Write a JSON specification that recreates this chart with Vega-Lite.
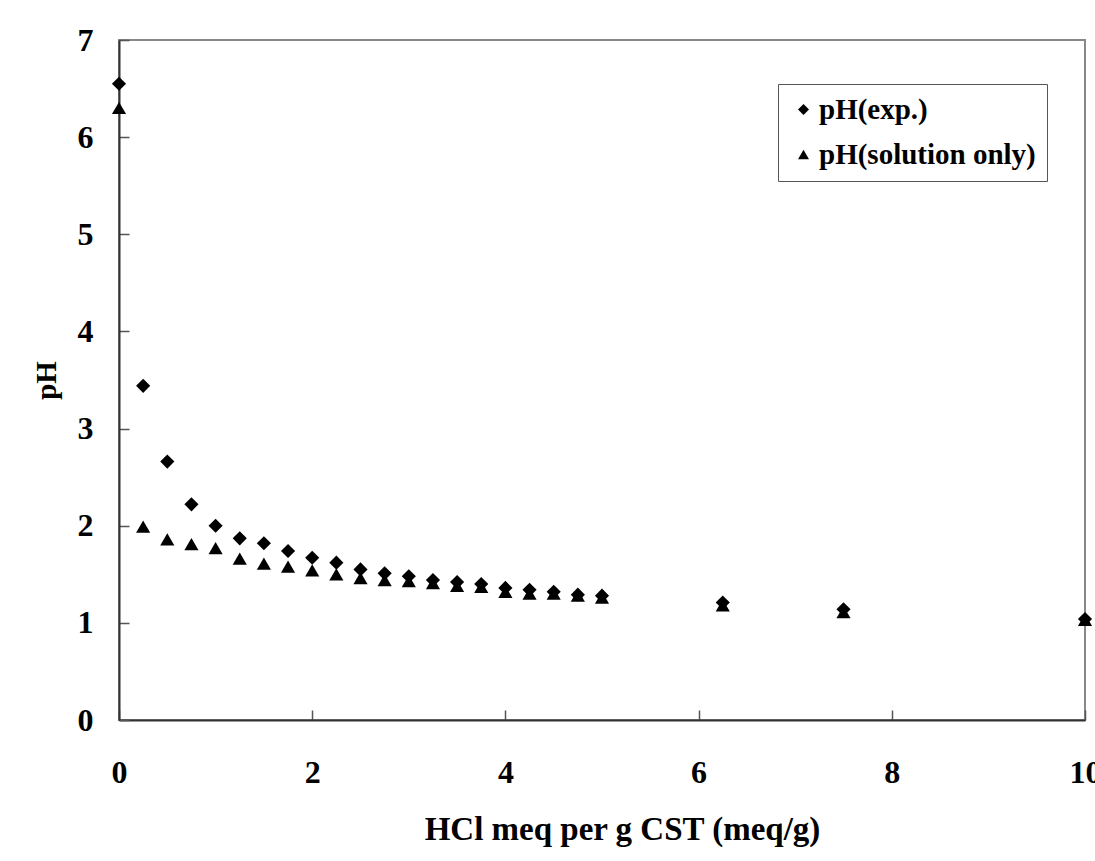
{
  "$schema": "https://vega.github.io/schema/vega-lite/v6.json",
  "autosize": {"type": "none"},
  "padding": {"left": 119, "top": 40, "right": 10, "bottom": 141},
  "width": 966,
  "height": 680,
  "background": "white",
  "config": {
    "view": {"stroke": "#888888", "strokeWidth": 2},
    "font": "Liberation Serif",
    "axis": {
      "grid": false,
      "domainColor": "#333333",
      "domainWidth": 2,
      "ticks": true,
      "tickColor": "#555555",
      "tickWidth": 1.5,
      "tickSize": -10,
      "labelFont": "Liberation Serif",
      "labelFontWeight": "bold",
      "labelFontSize": 32,
      "labelColor": "black",
      "titleFont": "Liberation Serif",
      "titleFontWeight": "bold",
      "titleFontSize": 29,
      "titleColor": "black"
    }
  },
  "data": {
    "values": [
      {"hcl": 0, "series": "pH(exp.)", "pH": 6.55},
      {"hcl": 0.25, "series": "pH(exp.)", "pH": 3.44},
      {"hcl": 0.5, "series": "pH(exp.)", "pH": 2.66},
      {"hcl": 0.75, "series": "pH(exp.)", "pH": 2.22},
      {"hcl": 1.0, "series": "pH(exp.)", "pH": 2.0},
      {"hcl": 1.25, "series": "pH(exp.)", "pH": 1.87},
      {"hcl": 1.5, "series": "pH(exp.)", "pH": 1.82},
      {"hcl": 1.75, "series": "pH(exp.)", "pH": 1.74},
      {"hcl": 2.0, "series": "pH(exp.)", "pH": 1.67},
      {"hcl": 2.25, "series": "pH(exp.)", "pH": 1.62},
      {"hcl": 2.5, "series": "pH(exp.)", "pH": 1.55},
      {"hcl": 2.75, "series": "pH(exp.)", "pH": 1.51},
      {"hcl": 3.0, "series": "pH(exp.)", "pH": 1.48},
      {"hcl": 3.25, "series": "pH(exp.)", "pH": 1.44},
      {"hcl": 3.5, "series": "pH(exp.)", "pH": 1.42},
      {"hcl": 3.75, "series": "pH(exp.)", "pH": 1.4},
      {"hcl": 4.0, "series": "pH(exp.)", "pH": 1.36},
      {"hcl": 4.25, "series": "pH(exp.)", "pH": 1.34},
      {"hcl": 4.5, "series": "pH(exp.)", "pH": 1.32},
      {"hcl": 4.75, "series": "pH(exp.)", "pH": 1.29},
      {"hcl": 5.0, "series": "pH(exp.)", "pH": 1.28},
      {"hcl": 6.25, "series": "pH(exp.)", "pH": 1.21},
      {"hcl": 7.5, "series": "pH(exp.)", "pH": 1.14},
      {"hcl": 10.0, "series": "pH(exp.)", "pH": 1.04},
      {"hcl": 0, "series": "pH(solution only)", "pH": 6.3},
      {"hcl": 0.25, "series": "pH(solution only)", "pH": 1.99},
      {"hcl": 0.5, "series": "pH(solution only)", "pH": 1.86},
      {"hcl": 0.75, "series": "pH(solution only)", "pH": 1.81},
      {"hcl": 1.0, "series": "pH(solution only)", "pH": 1.77},
      {"hcl": 1.25, "series": "pH(solution only)", "pH": 1.66},
      {"hcl": 1.5, "series": "pH(solution only)", "pH": 1.61},
      {"hcl": 1.75, "series": "pH(solution only)", "pH": 1.58},
      {"hcl": 2.0, "series": "pH(solution only)", "pH": 1.54},
      {"hcl": 2.25, "series": "pH(solution only)", "pH": 1.5},
      {"hcl": 2.5, "series": "pH(solution only)", "pH": 1.46},
      {"hcl": 2.75, "series": "pH(solution only)", "pH": 1.44},
      {"hcl": 3.0, "series": "pH(solution only)", "pH": 1.43},
      {"hcl": 3.25, "series": "pH(solution only)", "pH": 1.41},
      {"hcl": 3.5, "series": "pH(solution only)", "pH": 1.38},
      {"hcl": 3.75, "series": "pH(solution only)", "pH": 1.37},
      {"hcl": 4.0, "series": "pH(solution only)", "pH": 1.32},
      {"hcl": 4.25, "series": "pH(solution only)", "pH": 1.3},
      {"hcl": 4.5, "series": "pH(solution only)", "pH": 1.3},
      {"hcl": 4.75, "series": "pH(solution only)", "pH": 1.28},
      {"hcl": 5.0, "series": "pH(solution only)", "pH": 1.26},
      {"hcl": 6.25, "series": "pH(solution only)", "pH": 1.18},
      {"hcl": 7.5, "series": "pH(solution only)", "pH": 1.11},
      {"hcl": 10.0, "series": "pH(solution only)", "pH": 1.03}
    ]
  },
  "mark": {"type": "point", "filled": true, "color": "black", "opacity": 1, "size": 200, "clip": false},
  "encoding": {
    "x": {
      "field": "hcl", "type": "quantitative",
      "scale": {"domain": [0, 10], "nice": false, "zero": false},
      "axis": {"values": [0, 2, 4, 6, 8, 10], "labelPadding": 47, "title": "HCl meq per g CST (meq/g)", "titleFontSize": 33, "titlePadding": 25, "titleX": 503, "labelFlush": false}
    },
    "y": {
      "field": "pH", "type": "quantitative",
      "scale": {"domain": [0, 7], "nice": false},
      "axis": {"values": [0, 1, 2, 3, 4, 5, 6, 7], "labelPadding": 36, "title": "pH", "titlePadding": 16, "labelFlush": false}
    },
    "shape": {
      "field": "series", "type": "nominal",
      "scale": {"domain": ["pH(exp.)", "pH(solution only)"], "range": ["diamond", "triangle-up"]},
      "legend": {
        "title": null,
        "orient": "none",
        "legendX": 659,
        "legendY": 44,
        "strokeColor": "#555555",
        "fillColor": "white",
        "padding": 11,
        "symbolOffset": 0,
        "symbolSize": 120,
        "symbolFillColor": "black",
        "symbolStrokeColor": "black",
        "labelFont": "Liberation Serif",
        "labelFontWeight": "bold",
        "labelFontSize": 29,
        "labelColor": "black",
        "labelOffset": 1,
        "rowPadding": 15,
        "labelLimit": 400
      }
    }
  }
}
